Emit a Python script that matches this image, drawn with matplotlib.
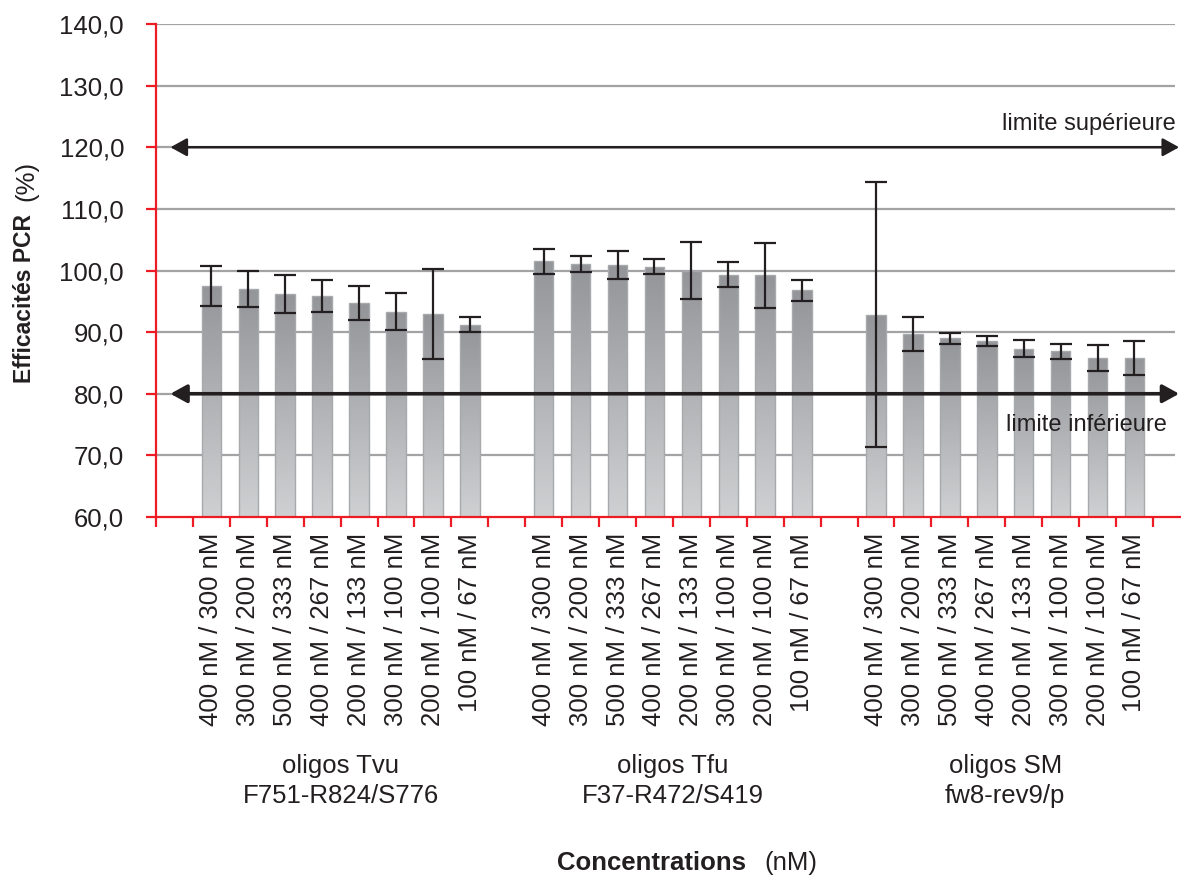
import numpy as np
import matplotlib
matplotlib.use("Agg")
import matplotlib.pyplot as plt
from matplotlib.patches import FancyArrowPatch
from matplotlib.transforms import blended_transform_factory

plt.rcParams['font.family'] = ['Liberation Sans', 'DejaVu Sans']

# data
conc = ["400 nM / 300 nM", "300 nM / 200 nM", "500 nM / 333 nM", "400 nM / 267 nM",
        "200 nM / 133 nM", "300 nM / 100 nM", "200 nM / 100 nM", "100 nM / 67 nM"]
groups = ["oligos Tvu\nF751-R824/S776", "oligos Tfu\nF37-R472/S419", "oligos SM\nfw8-rev9/p"]

tvu = [97.5, 97.0, 96.2, 95.9, 94.7, 93.3, 93.0, 91.2]
tvu_err = [3.2, 3.0, 3.1, 2.6, 2.8, 3.0, 7.3, 1.2]
tfu = [101.5, 101.0, 100.9, 100.6, 100.0, 99.3, 99.2, 96.8]
tfu_err = [2.0, 1.3, 2.3, 1.2, 4.6, 2.0, 5.3, 1.7]
sm = [92.8, 89.7, 89.0, 88.6, 87.3, 86.9, 85.8, 85.8]
sm_err = [21.5, 2.7, 0.9, 0.8, 1.4, 1.2, 2.1, 2.8]

lim_sup = 120.0
lim_inf = 80.0

txt = '#231f20'
red = '#ed1c24'
fs = 18.5

fig = plt.figure(figsize=(11.81, 8.76), dpi=100)
ax = fig.add_axes([156 / 1181, 359 / 876, 1 - 156 / 1181, 493 / 876])

# one empty slot before each group of 8
pos = np.concatenate([np.arange(8) + 1, np.arange(8) + 10, np.arange(8) + 19])
vals = np.array(tvu + tfu + sm)
errs = np.array(tvu_err + tfu_err + sm_err)

yt = np.arange(60, 141, 10)
ax.hlines(yt[1:], -0.5, 27.1, color='#a3a3a6', lw=1.6, zorder=0)

bw = 0.53
bars = ax.bar(pos, vals - 60, bottom=60, width=bw, color='none',
              edgecolor='#a7a9ac', lw=1.0, zorder=2)
grad = np.linspace(0, 1, 100).reshape(-1, 1)
cmap = matplotlib.colors.LinearSegmentedColormap.from_list('g', ['#cfd0d2', '#939598'])
for b, v in zip(bars, vals):
    x0 = b.get_x()
    im = ax.imshow(grad, extent=(x0, x0 + bw, 60, v), origin='lower',
                   cmap=cmap, aspect='auto', zorder=1.5)
    im.set_clip_path(b)
ax.set_xlim(-0.5, 27.26)
ax.set_ylim(60, 140)

ax.errorbar(pos, vals, yerr=errs, fmt='none', ecolor='#231f20', elinewidth=1.6,
            capsize=8, capthick=1.6, zorder=3)

# limit arrows
for y, lw in [(lim_sup, 1.8), (lim_inf, 2.6)]:
    a = FancyArrowPatch((-0.11, y), (27.21, y),
                        arrowstyle='<|-|>,head_length=1.0,head_width=0.55',
                        mutation_scale=10, color='#231f20', lw=lw, zorder=4,
                        shrinkA=0, shrinkB=0)
    ax.add_patch(a)
ax.text(27.12, lim_sup + 3.7, "limite supérieure", ha='right', va='center', fontsize=17, color=txt)
ax.text(26.88, lim_inf - 5.0, "limite inférieure", ha='right', va='center', fontsize=17, color=txt)

# axes styling
for s in ['top', 'right']:
    ax.spines[s].set_visible(False)
for s in ['left', 'bottom']:
    ax.spines[s].set_color(red)
    ax.spines[s].set_linewidth(1.6)

ax.set_yticks(yt)
ax.set_yticklabels([f"{v:.1f}".replace('.', ',') for v in yt], fontsize=fs, color=txt)
ax.tick_params(axis='y', direction='out', length=7, width=1.6, color=red, pad=16)

ax.set_xticks(np.arange(-0.5, 27, 1.0))
ax.set_xticklabels([])
ax.tick_params(axis='x', direction='out', length=7, width=1.6, color=red)
for p, lab in zip(pos, conc * 3):
    ax.text(p, 57.4, lab, rotation=90, ha='center', va='top', fontsize=fs, color=txt)

tr = blended_transform_factory(ax.transData, fig.transFigure)
for i, g in enumerate(groups):
    ax.text(4.5 + 9 * i, 1 - 781 / 876, g, transform=tr, ha='center', va='center',
            fontsize=fs, color=txt, linespacing=1.3)

# axis titles
fig.text(557 / 1181, 1 - 863 / 876, "Concentrations", fontsize=fs, fontweight='bold',
         ha='left', va='center', color=txt)
fig.text(764 / 1181, 1 - 863 / 876, "(nM)", fontsize=fs, ha='left', va='center', color=txt)
fig.text(25 / 1181, 1 - 383 / 876, "Efficacités PCR", fontsize=16.5, fontweight='bold',
         rotation=90, ha='center', va='bottom', color=txt)
fig.text(26 / 1181, 1 - 181 / 876, "(%)", fontsize=fs, rotation=90, ha='center',
         va='center', color=txt)

fig.savefig("out.png", dpi=100)
